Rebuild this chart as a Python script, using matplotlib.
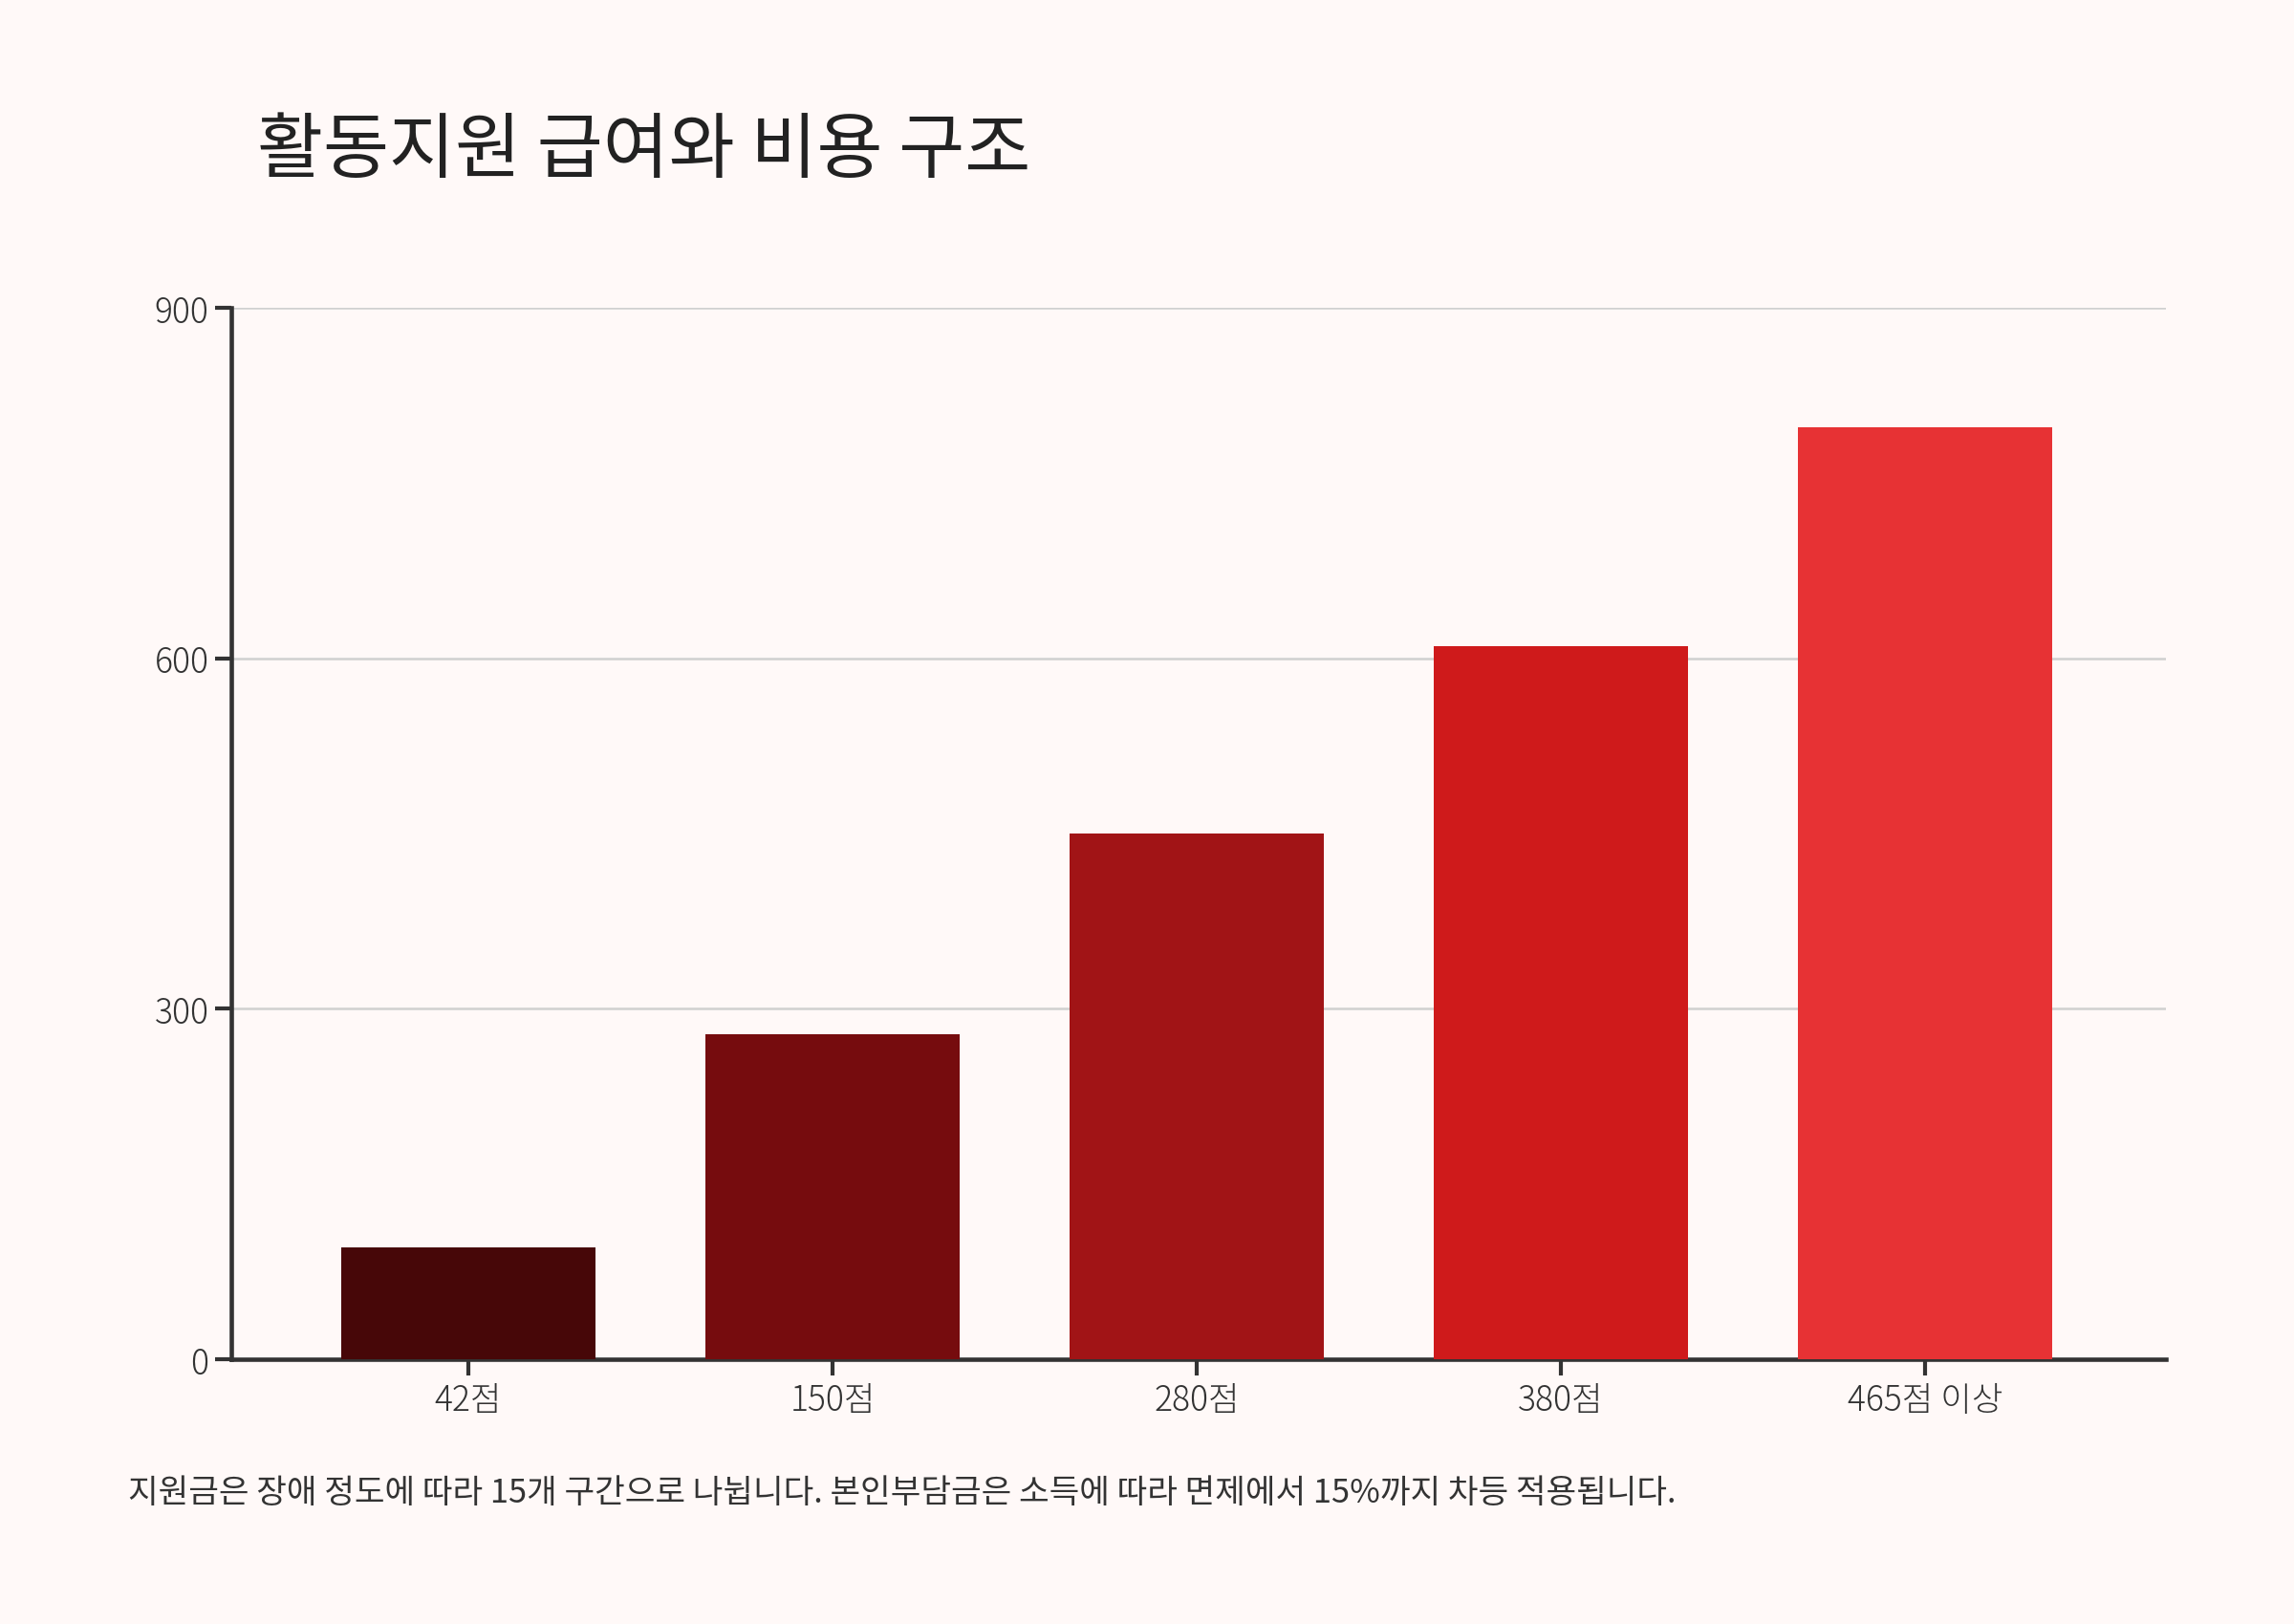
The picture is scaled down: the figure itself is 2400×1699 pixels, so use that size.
import matplotlib
matplotlib.use("Agg")
import matplotlib.pyplot as plt
from matplotlib import font_manager as fm

categories = ["42점", "150점", "280점", "380점", "465점 이상"]
values = [96, 278, 450, 610, 798]
colors = ["#470708", "#760c0e", "#a11416", "#cf1a1b", "#e73234"]
yticks = [0, 300, 600, 900]
title = "활동지원 급여와 비용 구조"
note = "지원금은 장애 정도에 따라 15개 구간으로 나뉩니다. 본인부담금은 소득에 따라 면제에서 15%까지 차등 적용됩니다."

names = sorted({f.name for f in fm.fontManager.ttflist if "CJK" in f.name})
pref = [n for n in ["Noto Sans CJK KR", "Noto Sans CJK JP", "Noto Sans CJK SC", "Noto Sans CJK TC"] if n in names]
fams = pref + [n for n in names if n not in pref]
plt.rcParams["font.family"] = fams + ["DejaVu Sans"]

bg = "#fff9f8"
fig = plt.figure(figsize=(16, 11.333), dpi=150, facecolor=bg)
ax = fig.add_axes([0.101, 0.163, 0.843, 0.647], facecolor=bg)
ax.bar(range(len(values)), values, width=0.7, color=colors, zorder=3)
ax.set_xlim(-0.65, 4.66)
ax.set_ylim(0, 900)
ax.set_yticks(yticks)
ax.set_yticklabels([str(v) for v in yticks])
ax.set_xticks(range(len(categories)))
ax.set_xticklabels(categories)
ax.grid(axis="y", color="#d0d0d0", linewidth=1.2, zorder=0)
for s in ["top", "right"]:
    ax.spines[s].set_visible(False)
for s in ["left", "bottom"]:
    ax.spines[s].set_color("#333333")
    ax.spines[s].set_linewidth(2.2)
ax.tick_params(axis="both", colors="#333333", labelcolor="#333333", labelsize=17,
               width=2, length=8)
for lbl in ax.get_xticklabels() + ax.get_yticklabels():
    lbl.set_fontweight("light")
fig.text(0.112, 0.907, title, fontsize=36, color="#222222", va="center", ha="left")
fig.text(0.056, 0.081, note, fontsize=16.5, color="#333333", va="center", ha="left")
fig.savefig("out.png", facecolor=bg)
